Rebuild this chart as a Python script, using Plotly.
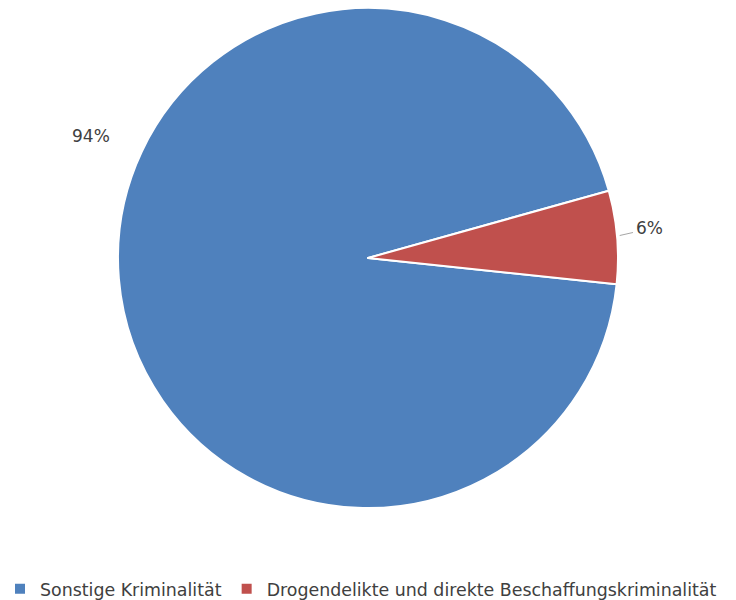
import plotly.graph_objects as go

# Anteil der Delikte
categories = ["Sonstige Kriminalität", "Drogendelikte und direkte Beschaffungskriminalität"]
shares = [94, 6]
colors = ["#4F81BD", "#C0504D"]

total = sum(shares)
pct_labels = [f"{v / total * 100:.0f}%" for v in shares]

TEXT = "#404040"
FONT = "DejaVu Sans, Liberation Sans, sans-serif"

fig = go.Figure(
    go.Pie(
        labels=categories,
        values=shares,
        sort=False,
        direction="clockwise",
        rotation=96,
        marker=dict(colors=colors, line=dict(color="white", width=2)),
        textinfo="none",
        hoverinfo="label+percent",
        domain=dict(x=[0, 1], y=[0, 1]),
    )
)

# Prozentangaben neben den Segmenten (Papierkoordinaten)
label_pos = [(0.124, 0.744), (0.882, 0.56)]
for txt, (lx, ly) in zip(pct_labels, label_pos):
    fig.add_annotation(x=lx, y=ly, xref="paper", yref="paper",
                       xanchor="center", yanchor="middle",
                       text=txt, showarrow=False,
                       font=dict(family=FONT, size=17, color=TEXT))

# Führungslinie zum kleinen Segment
fig.add_shape(type="line", xref="paper", yref="paper",
              x0=0.842, y0=0.545, x1=0.860, y1=0.551,
              line=dict(color="#A6A6A6", width=1))

fig.update_layout(
    width=736,
    height=600,
    margin=dict(l=0, r=0, t=8, b=92, autoexpand=False),
    paper_bgcolor="white",
    font=dict(family=FONT, size=17, color=TEXT),
    legend=dict(
        orientation="h",
        x=0.0, xanchor="left",
        yref="container",
        y=(600 - 589) / 600, yanchor="middle",
        font=dict(family=FONT, size=17.4, color=TEXT),
    ),
)

fig.write_html("out.html")
